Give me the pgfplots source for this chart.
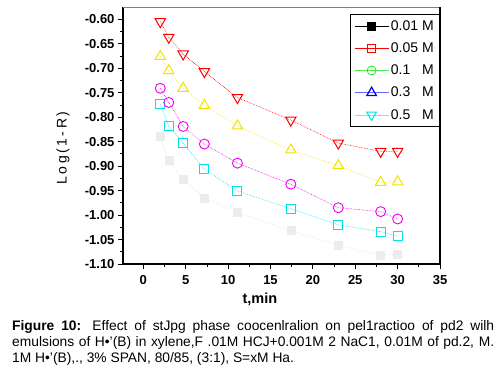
\documentclass[border=0pt]{standalone}
\usepackage{pgfplots}
\pgfplotsset{compat=1.18}
\usepackage{fontspec}
\setmainfont{Liberation Sans}
\definecolor{myred}{RGB}{255,0,0}
\definecolor{myyellow}{RGB}{238,228,0}
\definecolor{mymag}{RGB}{240,0,240}
\definecolor{mycyan}{RGB}{0,225,235}
\definecolor{mygray}{RGB}{236,236,236}
\definecolor{mygreen}{RGB}{0,230,0}
\definecolor{myblue}{RGB}{0,0,255}
\begin{document}
\begin{tikzpicture}
\path[use as bounding box] (0pt,0pt) rectangle (503pt,-378pt);
\begin{axis}[
  at={(123pt,-264pt)}, anchor=south west, scale only axis,
  width=317pt, height=257pt, clip=false,
  xmin=-2.4, xmax=35, ymin=-1.10, ymax=-0.575,
  xtick={0,5,10,15,20,25,30,35},
  ytick={-1.10,-1.05,-1.00,-0.95,-0.90,-0.85,-0.80,-0.75,-0.70,-0.65,-0.60},
  minor x tick num=1, minor y tick num=1,
  tick align=outside, major tick length=5pt, minor tick length=3pt,
  axis x line*=bottom, axis y line*=left,
  axis line style={line width=1.1pt, -},
  tick style={black, line width=0.8pt},
  ticklabel style={font=\fontsize{13}{13}\selectfont\bfseries},
  xticklabel style={yshift=-3pt},
  /pgf/number format/assume math mode=true,
  yticklabel style={/pgf/number format/.cd, fixed, fixed zerofill, precision=2},
  xlabel={t,min},
  xlabel style={font=\fontsize{14.5}{15}\selectfont\bfseries, at={(axis description cs:0.432,-0.136)}, anchor=center},
  ylabel={\addfontfeatures{LetterSpace=18}Log(1-R)},
  ylabel style={font=\fontsize{14}{15}\selectfont, at={(axis description cs:-0.189,0.451)}, anchor=center, rotate=0},
  legend style={at={(rel axis cs:1,0.973)}, anchor=north east, draw=black, line width=0.6pt,
    font=\fontsize{14}{16}\selectfont, row sep=7pt, inner sep=4pt},
  legend cell align=left,
  legend image code/.code={
    \draw[mark repeat=2, mark phase=2, #1] plot coordinates {(0pt,0pt)(17pt,0pt)(34pt,0pt)};
  },
]
\addlegendimage{draw=black, line width=0.6pt, mark=square*, mark size=4pt, mark options={draw=black, fill=black}}
\addlegendentry{0.01 M}
\addlegendimage{draw=myred, line width=0.6pt, mark=square, mark size=4pt, mark options={draw=myred}}
\addlegendentry{0.05 M}
\addlegendimage{draw=mygreen!70, line width=0.6pt, mark=o, mark size=4.5pt, mark options={draw=mygreen}}
\addlegendentry{0.1\hphantom{0} M}
\addlegendimage{draw=myblue!60, line width=0.6pt, mark=triangle, mark size=5.5pt, mark options={draw=myblue, line width=1.2pt}}
\addlegendentry{0.3\hphantom{0} M}
\addlegendimage{draw=mycyan!60, line width=0.6pt, mark=triangle, mark size=5.5pt, mark options={draw=mycyan, rotate=180, line width=1pt}}
\addlegendentry{0.5\hphantom{0} M}

% gray filled squares
\addplot[forget plot, mygray!80!gray, densely dotted, line width=0.5pt, mark=square*, mark size=4pt,
  mark options={solid, fill=mygray, draw=mygray}] coordinates {
 (2,-0.840) (3,-0.889) (4.7,-0.927) (7.2,-0.965) (11.1,-0.995)
 (17.4,-1.032) (23,-1.062) (28,-1.082) (30,-1.080)};
% cyan squares
\addplot[forget plot, mycyan, densely dotted, line width=0.6pt, mark=square, mark size=4.5pt,
  mark options={solid, line width=1pt}] coordinates {
 (2,-0.773) (3,-0.819) (4.7,-0.853) (7.2,-0.906) (11.1,-0.951)
 (17.4,-0.987) (23,-1.020) (28,-1.034) (30,-1.043)};
% magenta circles
\addplot[forget plot, mymag, densely dotted, line width=0.6pt, mark=o, mark size=5pt,
  mark options={solid, line width=0.9pt}] coordinates {
 (2,-0.741) (3,-0.770) (4.7,-0.819) (7.2,-0.855) (11.1,-0.894)
 (17.4,-0.937) (23,-0.985) (28,-0.993) (30,-1.008)};
% yellow up triangles
\addplot[forget plot, myyellow, densely dotted, line width=0.6pt, mark=triangle, mark size=6pt,
  mark options={solid, line width=1pt}] coordinates {
 (2,-0.676) (3,-0.705) (4.7,-0.741) (7.2,-0.776) (11.1,-0.818)
 (17.4,-0.867) (23,-0.899) (28,-0.933) (30,-0.932)};
% red down triangles
\addplot[forget plot, myred, densely dotted, line width=0.6pt, mark=triangle, mark size=6pt,
  mark options={solid, rotate=180, line width=1pt}] coordinates {
 (2,-0.605) (3,-0.637) (4.7,-0.671) (7.2,-0.707) (11.1,-0.760)
 (17.4,-0.806) (23,-0.853) (28,-0.870) (30,-0.870)};

\draw[gray, line width=0.8pt] (rel axis cs:0,1) -- (rel axis cs:1,1);
\draw[black, line width=1.1pt] (rel axis cs:1,1) -- (rel axis cs:1,0);
\end{axis}
\node[anchor=north west, text width=482pt, align=justify, inner sep=0pt,
  font=\fontsize{13.8}{16}\selectfont] at (12pt,-320pt) {\textbf{Figure 10:} Effect of stJpg phase coocenlralion on pel1ractioo of pd2 wilh\linebreak emulsions of H•'(B) in xylene,F .01M HCJ+0.001M 2 NaC1, 0.01M of pd.2, M.\linebreak 1M H•'(B),., 3\% SPAN, 80/85, (3:1), S=xM Ha.};
\end{tikzpicture}
\end{document}
